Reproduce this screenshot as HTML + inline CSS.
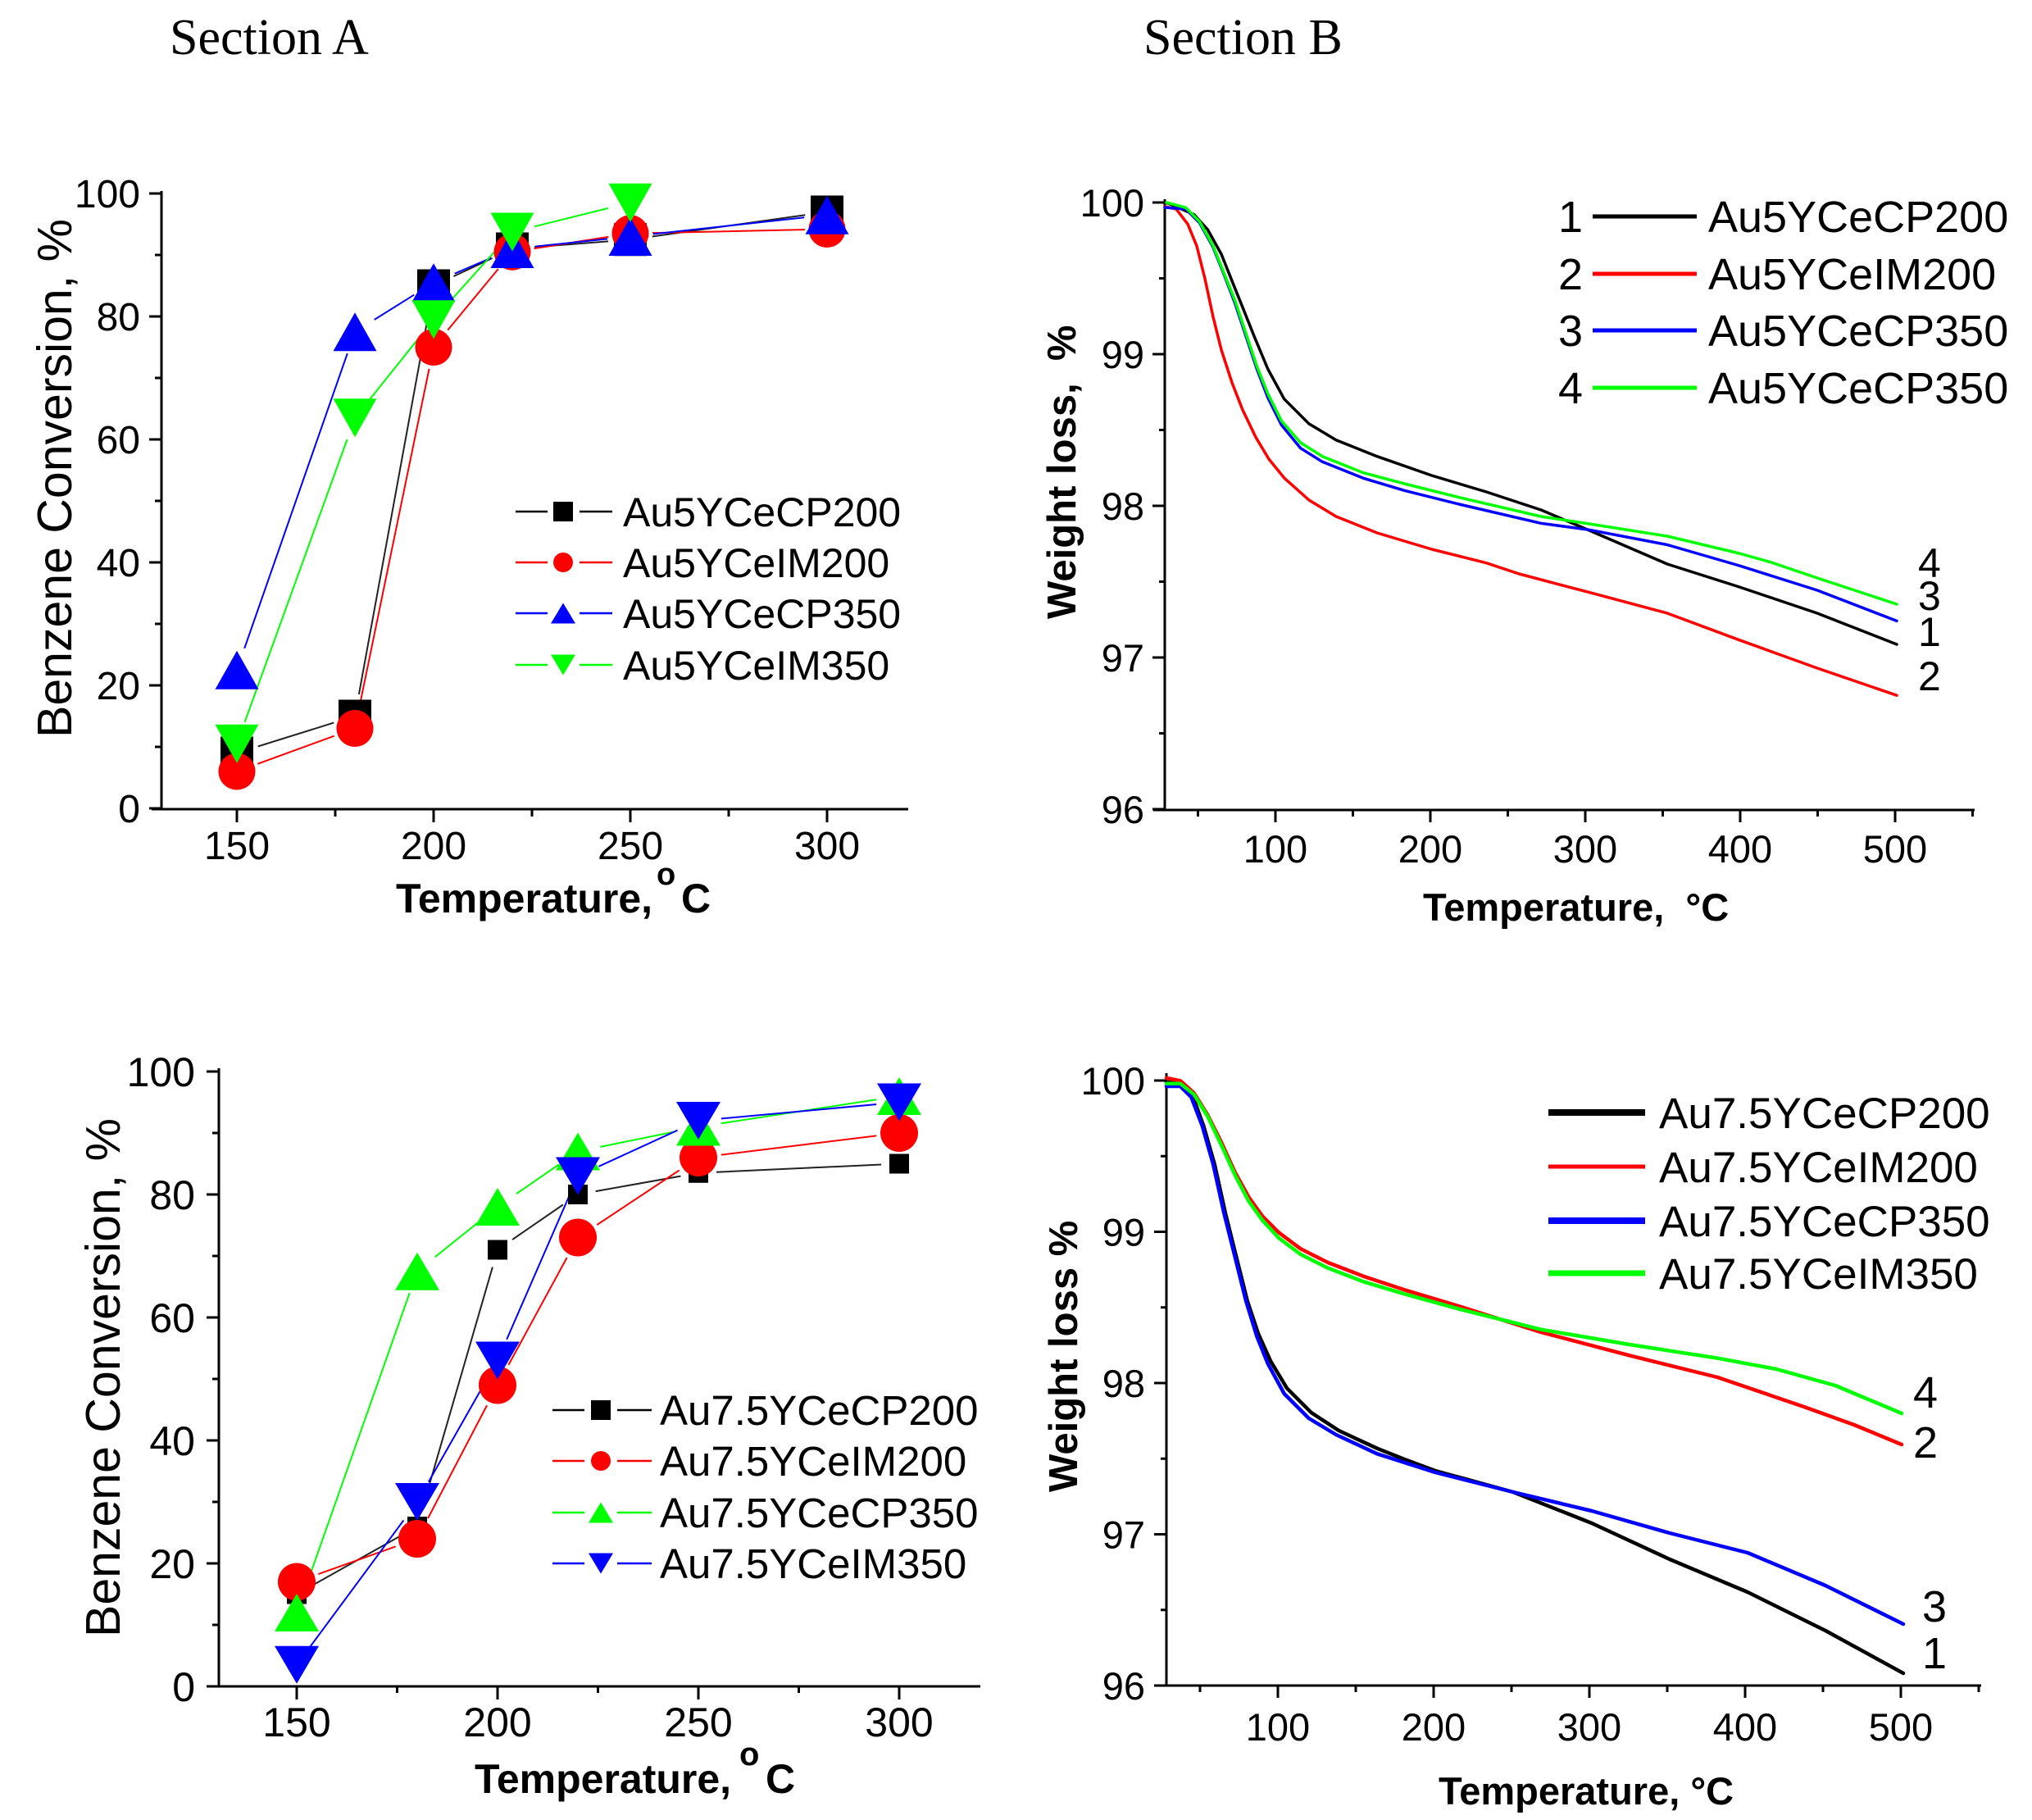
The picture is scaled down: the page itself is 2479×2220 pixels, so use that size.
<!DOCTYPE html>
<html><head><meta charset="utf-8"><style>
html,body{margin:0;padding:0;background:#fff;}
svg{display:block;}
text{font-family:"Liberation Sans",Arial,sans-serif;fill:#000;}
.serif{font-family:"Liberation Serif","Times New Roman",serif;}
.ax{stroke:#000;stroke-width:3;fill:none;}
.b{font-weight:bold;}
</style></head><body>
<svg width="2479" height="2220" viewBox="0 0 2479 2220" xmlns="http://www.w3.org/2000/svg">
<rect width="2479" height="2220" fill="#fff"/>
<defs>
<mask id="mTLk" maskUnits="userSpaceOnUse" x="0" y="0" width="2479" height="2220"><rect width="2479" height="2220" fill="#fff"/><g fill="#000"><circle cx="289" cy="918.5" r="27"/><circle cx="433" cy="873.5" r="27"/><circle cx="529" cy="348.5" r="27"/><circle cx="625" cy="303.5" r="27"/><circle cx="769" cy="292.25" r="27"/><circle cx="1009" cy="258.5" r="27"/></g></mask>
<mask id="mTLr" maskUnits="userSpaceOnUse" x="0" y="0" width="2479" height="2220"><rect width="2479" height="2220" fill="#fff"/><g fill="#000"><circle cx="289" cy="941" r="27"/><circle cx="433" cy="888.5" r="27"/><circle cx="529" cy="423.5" r="27"/><circle cx="625" cy="307.25" r="27"/><circle cx="769" cy="284.75" r="27"/><circle cx="1009" cy="279.5" r="27"/></g></mask>
<mask id="mTLb" maskUnits="userSpaceOnUse" x="0" y="0" width="2479" height="2220"><rect width="2479" height="2220" fill="#fff"/><g fill="#000"><circle cx="289" cy="817.25" r="28"/><circle cx="433" cy="404.75" r="28"/><circle cx="529" cy="344.75" r="28"/><circle cx="625" cy="303.5" r="28"/><circle cx="769" cy="288.5" r="28"/><circle cx="1009" cy="262.25" r="28"/></g></mask>
<mask id="mTLg" maskUnits="userSpaceOnUse" x="0" y="0" width="2479" height="2220"><rect width="2479" height="2220" fill="#fff"/><g fill="#000"><circle cx="289" cy="907.25" r="28"/><circle cx="433" cy="509.75" r="28"/><circle cx="529" cy="389.75" r="28"/><circle cx="625" cy="283" r="28"/><circle cx="769" cy="247.25" r="28"/></g></mask>

<mask id="mBLk" maskUnits="userSpaceOnUse" x="0" y="0" width="2479" height="2220"><rect width="2479" height="2220" fill="#fff"/><g fill="#000"><circle cx="362" cy="1944.5" r="22"/><circle cx="509" cy="1862" r="22"/><circle cx="607" cy="1524.5" r="22"/><circle cx="705" cy="1457" r="22"/><circle cx="852" cy="1430.75" r="22"/><circle cx="1097" cy="1419.5" r="22"/></g></mask>
<mask id="mBLr" maskUnits="userSpaceOnUse" x="0" y="0" width="2479" height="2220"><rect width="2479" height="2220" fill="#fff"/><g fill="#000"><circle cx="362" cy="1929.5" r="28"/><circle cx="509" cy="1877" r="28"/><circle cx="607" cy="1689.5" r="28"/><circle cx="705" cy="1509.5" r="28"/><circle cx="852" cy="1412" r="28"/><circle cx="1097" cy="1382" r="28"/></g></mask>
<mask id="mBLg" maskUnits="userSpaceOnUse" x="0" y="0" width="2479" height="2220"><rect width="2479" height="2220" fill="#fff"/><g fill="#000"><circle cx="362" cy="1967" r="28"/><circle cx="509" cy="1550.75" r="28"/><circle cx="607" cy="1472" r="28"/><circle cx="705" cy="1404.5" r="28"/><circle cx="852" cy="1374.5" r="28"/><circle cx="1097" cy="1337" r="28"/></g></mask>
<mask id="mBLb" maskUnits="userSpaceOnUse" x="0" y="0" width="2479" height="2220"><rect width="2479" height="2220" fill="#fff"/><g fill="#000"><circle cx="362" cy="2030.75" r="28"/><circle cx="509" cy="1832" r="28"/><circle cx="607" cy="1659.5" r="28"/><circle cx="705" cy="1434.5" r="28"/><circle cx="852" cy="1367" r="28"/><circle cx="1097" cy="1344.5" r="28"/></g></mask>
</defs>

<!-- Section titles -->
<text class="serif" x="207" y="66" font-size="62">Section A</text>
<text class="serif" x="1395" y="66" font-size="62">Section B</text>

<!-- ================= TOP LEFT ================= -->
<g class="ax">
<line x1="197" y1="233" x2="197" y2="988"/>
<line x1="185" y1="987" x2="1108" y2="987"/>
<path d="M182 986H197M182 836H197M182 686H197M182 536H197M182 386H197M182 236H197"/>
<path d="M189 911H197M189 761H197M189 611H197M189 461H197M189 311H197"/>
<path d="M289 987V1003M529 987V1003M769 987V1003M1009 987V1003"/>
<path d="M409 987V996M649 987V996M889 987V996"/>
</g>
<g font-size="48" text-anchor="end">
<text x="171" y="1003">0</text><text x="171" y="853">20</text><text x="171" y="703">40</text>
<text x="171" y="553">60</text><text x="171" y="403">80</text><text x="171" y="253">100</text>
</g>
<g font-size="48" text-anchor="middle">
<text x="289" y="1048">150</text><text x="529" y="1048">200</text><text x="769" y="1048">250</text><text x="1009" y="1048">300</text>
</g>
<text class="b" x="483" y="1113" font-size="50">Temperature,</text>
<text class="b" x="801" y="1079" font-size="38">o</text>
<text class="b" x="831" y="1113" font-size="50">C</text>
<text transform="translate(87,900) rotate(-90)" font-size="59">Benzene Conversion, %</text>

<g fill="none" stroke-width="2">
<polyline mask="url(#mTLk)" stroke="#222" points="289,918.5 433,873.5 529,348.5 625,303.5 769,292.25 1009,258.5"/>
<polyline mask="url(#mTLr)" stroke="#f00" points="289,941 433,888.5 529,423.5 625,307.25 769,284.75 1009,279.5"/>
<polyline mask="url(#mTLb)" stroke="#00f" points="289,817.25 433,404.75 529,344.75 625,303.5 769,288.5 1009,262.25"/>
<polyline mask="url(#mTLg)" stroke="#0f0" points="289,907.25 433,509.75 529,389.75 625,283 769,247.25"/>
</g>
<g fill="#000">
<rect x="269" y="898.5" width="40" height="40"/><rect x="413" y="853.5" width="40" height="40"/>
<rect x="509" y="328.5" width="40" height="40"/><rect x="605" y="283.5" width="40" height="40"/>
<rect x="749" y="272.25" width="40" height="40"/><rect x="989" y="238.5" width="40" height="40"/>
</g>
<g fill="#f00">
<circle cx="289" cy="941" r="22.5"/><circle cx="433" cy="888.5" r="22.5"/><circle cx="529" cy="423.5" r="22.5"/>
<circle cx="625" cy="307.25" r="22.5"/><circle cx="769" cy="284.75" r="22.5"/><circle cx="1009" cy="279.5" r="22.5"/>
</g>
<g fill="#00f">
<polygon points="289,793.75 262.5,840.75 315.5,840.75"/>
<polygon points="433,381.25 406.5,428.25 459.5,428.25"/>
<polygon points="529,321.25 502.5,368.25 555.5,368.25"/>
<polygon points="625,280 598.5,327 651.5,327"/>
<polygon points="769,265 742.5,312 795.5,312"/>
<polygon points="1009,238.75 982.5,285.75 1035.5,285.75"/>
</g>
<g fill="#0f0">
<polygon points="262.5,883.75 315.5,883.75 289,930.75"/>
<polygon points="406.5,486.25 459.5,486.25 433,533.25"/>
<polygon points="502.5,366.25 555.5,366.25 529,413.25"/>
<polygon points="598.5,259.5 651.5,259.5 625,306.5"/>
<polygon points="742.5,223.75 795.5,223.75 769,270.75"/>
</g>
<!-- TL legend -->
<g stroke-width="2.5">
<path d="M629 624H668M707 624H747" stroke="#000"/>
<path d="M629 686H668M707 686H747" stroke="#f00"/>
<path d="M629 748H668M707 748H747" stroke="#00f"/>
<path d="M629 811H668M707 811H747" stroke="#0f0"/>
</g>
<rect x="675" y="612" width="24" height="24" fill="#000"/>
<circle cx="687" cy="686" r="12" fill="#f00"/>
<polygon points="687,735.5 672,760.5 702,760.5" fill="#00f"/>
<polygon points="672,798.5 702,798.5 687,823.5" fill="#0f0"/>
<g font-size="50">
<text x="760" y="642">Au5YCeCP200</text>
<text x="760" y="704">Au5YCeIM200</text>
<text x="760" y="766">Au5YCeCP350</text>
<text x="760" y="829">Au5YCeIM350</text>
</g>

<!-- ================= TOP RIGHT ================= -->
<g class="ax">
<line x1="1421" y1="243" x2="1421" y2="989"/>
<line x1="1407" y1="988" x2="2409" y2="988"/>
<path d="M1406 247H1421M1406 432H1421M1406 617H1421M1406 802H1421M1406 987H1421"/>
<path d="M1414 339.5H1421M1414 524.5H1421M1414 709.5H1421M1414 894.5H1421"/>
<path d="M1556 988V1003M1745 988V1003M1934 988V1003M2123 988V1003M2312 988V1003"/>
<path d="M1461.5 988V996M1650.5 988V996M1839.5 988V996M2028.5 988V996M2217.5 988V996M2406.5 988V996"/>
</g>
<g font-size="47" text-anchor="end">
<text x="1396" y="264">100</text><text x="1396" y="449">99</text><text x="1396" y="634">98</text>
<text x="1396" y="819">97</text><text x="1396" y="1004">96</text>
</g>
<g font-size="47" text-anchor="middle">
<text x="1556" y="1052">100</text><text x="1745" y="1052">200</text><text x="1934" y="1052">300</text>
<text x="2123" y="1052">400</text><text x="2312" y="1052">500</text>
</g>
<text class="b" x="1736" y="1123" font-size="47">Temperature,&#160; °C</text>
<text class="b" transform="translate(1312,755) rotate(-90)" font-size="49">Weight loss,&#160; %</text>

<g fill="none" stroke-width="3.5" stroke-linejoin="round" stroke-linecap="round">
<polyline stroke="#f00" points="1421,252 1435,255 1449,273.3 1460,300 1470,340 1480,386.7 1490,426.7 1503,466.7 1516,500 1532,533.3 1548,560 1567,583.3 1597,610 1630,630 1680,650 1746.7,670 1813.3,686.7 1853.3,700 1939,722.6 2034,748 2122,780.7 2217,815 2314,848.2"/>
<polyline stroke="#000" points="1422,247 1430,250 1456.7,261.7 1473.3,280 1490,310 1503.3,343.3 1516.7,376.7 1530,410 1546.7,450 1566.7,486.7 1596.7,516.7 1630,536.7 1680,556.7 1746.7,580 1813.3,600 1880,622 1939,647 2034,688 2122,716 2217,748 2314,786"/>
<polyline stroke="#00f" points="1421,253 1446.7,255 1463.3,271.7 1480,301.7 1493.3,335 1506.7,370 1520,410 1533.3,450 1546.7,485 1563.3,518.3 1586.7,546.7 1613.3,563.3 1663.3,583.3 1713.3,598.3 1780,615 1880,638.3 1939,646.3 2034,664.5 2122,690 2217,720 2314,757.4"/>
<polyline stroke="#0f0" points="1423,247 1446.7,253.3 1463.3,270 1480,300 1493.3,333.3 1506.7,366.7 1520,406.7 1533.3,446.7 1546.7,480 1563.3,513.3 1586.7,540 1613.3,556.7 1663.3,576.7 1713.3,590 1780,606.7 1880,630 1939,639 2034,654 2122,675 2161,686 2217,705 2314,737"/>
</g>
<g font-size="50">
<text x="2340" y="704">4</text><text x="2340" y="744">3</text>
<text x="2340" y="788">1</text><text x="2340" y="842">2</text>
</g>
<!-- TR legend -->
<g stroke-width="5">
<line x1="1943" y1="264" x2="2070" y2="264" stroke="#000"/>
<line x1="1943" y1="334" x2="2070" y2="334" stroke="#f00"/>
<line x1="1943" y1="403" x2="2070" y2="403" stroke="#00f"/>
<line x1="1943" y1="473" x2="2070" y2="473" stroke="#0f0"/>
</g>
<g font-size="54">
<text x="1901" y="283">1</text><text x="2084" y="283">Au5YCeCP200</text>
<text x="1901" y="353">2</text><text x="2084" y="353">Au5YCeIM200</text>
<text x="1901" y="422">3</text><text x="2084" y="422">Au5YCeCP350</text>
<text x="1901" y="492">4</text><text x="2084" y="492">Au5YCeCP350</text>
</g>

<!-- ================= BOTTOM LEFT ================= -->
<g class="ax">
<line x1="267" y1="1303" x2="267" y2="2058"/>
<line x1="253" y1="2057" x2="1196" y2="2057"/>
<path d="M252 2057H267M252 1907H267M252 1757H267M252 1607H267M252 1457H267M252 1307H267"/>
<path d="M259 1982H267M259 1832H267M259 1682H267M259 1532H267M259 1382H267"/>
<path d="M362 2057V2073M607 2057V2073M852 2057V2073M1097 2057V2073"/>
<path d="M484.5 2057V2065M729.5 2057V2065M974.5 2057V2065"/>
</g>
<g font-size="50" text-anchor="end">
<text x="238" y="2075">0</text><text x="238" y="1925">20</text><text x="238" y="1775">40</text>
<text x="238" y="1625">60</text><text x="238" y="1475">80</text><text x="238" y="1325">100</text>
</g>
<g font-size="50" text-anchor="middle">
<text x="362" y="2118">150</text><text x="607" y="2118">200</text><text x="852" y="2118">250</text><text x="1097" y="2118">300</text>
</g>
<text class="b" x="579" y="2187" font-size="50">Temperature,</text>
<text class="b" x="902" y="2153" font-size="40">o</text>
<text class="b" x="934" y="2187" font-size="50">C</text>
<text transform="translate(146,1997) rotate(-90)" font-size="59">Benzene Conversion, %</text>

<g fill="none" stroke-width="2">
<polyline mask="url(#mBLk)" stroke="#222" points="362,1944.5 509,1862 607,1524.5 705,1457 852,1430.75 1097,1419.5"/>
<polyline mask="url(#mBLr)" stroke="#f00" points="362,1929.5 509,1877 607,1689.5 705,1509.5 852,1412 1097,1382"/>
<polyline mask="url(#mBLg)" stroke="#0f0" points="362,1967 509,1550.75 607,1472 705,1404.5 852,1374.5 1097,1337"/>
<polyline mask="url(#mBLb)" stroke="#00f" points="362,2030.75 509,1832 607,1659.5 705,1434.5 852,1367 1097,1344.5"/>
</g>
<g fill="#000">
<rect x="350" y="1932.5" width="24" height="24"/><rect x="497" y="1850" width="24" height="24"/>
<rect x="595" y="1512.5" width="24" height="24"/><rect x="693" y="1445" width="24" height="24"/>
<rect x="840" y="1418.75" width="24" height="24"/><rect x="1085" y="1407.5" width="24" height="24"/>
</g>
<g fill="#f00">
<circle cx="362" cy="1929.5" r="23"/><circle cx="509" cy="1877" r="23"/><circle cx="607" cy="1689.5" r="23"/>
<circle cx="705" cy="1509.5" r="23"/><circle cx="852" cy="1412" r="23"/><circle cx="1097" cy="1382" r="23"/>
</g>
<g fill="#0f0">
<polygon points="362,1944 335,1990 389,1990"/>
<polygon points="509,1527.75 482,1573.75 536,1573.75"/>
<polygon points="607,1449 580,1495 634,1495"/>
<polygon points="705,1381.5 678,1427.5 732,1427.5"/>
<polygon points="852,1351.5 825,1397.5 879,1397.5"/>
<polygon points="1097,1314 1070,1360 1124,1360"/>
</g>
<g fill="#00f">
<polygon points="335,2007.75 389,2007.75 362,2053.75"/>
<polygon points="482,1809 536,1809 509,1855"/>
<polygon points="580,1636.5 634,1636.5 607,1682.5"/>
<polygon points="678,1411.5 732,1411.5 705,1457.5"/>
<polygon points="825,1344 879,1344 852,1390"/>
<polygon points="1070,1321.5 1124,1321.5 1097,1367.5"/>
</g>
<!-- BL legend -->
<g stroke-width="2.5">
<path d="M674 1720H713M753 1720H795" stroke="#000"/>
<path d="M674 1782H713M753 1782H795" stroke="#f00"/>
<path d="M674 1845H713M753 1845H795" stroke="#0f0"/>
<path d="M674 1907H713M753 1907H795" stroke="#00f"/>
</g>
<rect x="721" y="1708" width="24" height="24" fill="#000"/>
<circle cx="733" cy="1782" r="12" fill="#f00"/>
<polygon points="733,1832.5 718,1857.5 748,1857.5" fill="#0f0"/>
<polygon points="718,1894.5 748,1894.5 733,1919.5" fill="#00f"/>
<g font-size="51">
<text x="805" y="1738">Au7.5YCeCP200</text>
<text x="805" y="1800">Au7.5YCeIM200</text>
<text x="805" y="1863">Au7.5YCeCP350</text>
<text x="805" y="1925">Au7.5YCeIM350</text>
</g>

<!-- ================= BOTTOM RIGHT ================= -->
<g class="ax">
<line x1="1423" y1="1309" x2="1423" y2="2057"/>
<line x1="1409" y1="2056" x2="2417" y2="2056"/>
<path d="M1408 1318H1423M1408 1502.5H1423M1408 1687H1423M1408 1871.5H1423M1408 2056H1423"/>
<path d="M1416 1410.25H1423M1416 1594.75H1423M1416 1779.25H1423M1416 1963.75H1423"/>
<path d="M1559 2056V2071M1749 2056V2071M1939 2056V2071M2129 2056V2071M2319 2056V2071"/>
<path d="M1464 2056V2064M1654 2056V2064M1844 2056V2064M2034 2056V2064M2224 2056V2064M2414 2056V2064"/>
</g>
<g font-size="47" text-anchor="end">
<text x="1397" y="1335">100</text><text x="1397" y="1519.5">99</text><text x="1397" y="1704">98</text>
<text x="1397" y="1888.5">97</text><text x="1397" y="2073">96</text>
</g>
<g font-size="47" text-anchor="middle">
<text x="1559" y="2123">100</text><text x="1749" y="2123">200</text><text x="1939" y="2123">300</text>
<text x="2129" y="2123">400</text><text x="2319" y="2123">500</text>
</g>
<text class="b" x="1755" y="2201" font-size="47">Temperature, °C</text>
<text class="b" transform="translate(1314,1820) rotate(-90)" font-size="49">Weight loss %</text>

<g fill="none" stroke-width="4.5" stroke-linejoin="round" stroke-linecap="round">
<polyline stroke="#000" points="1423,1320 1440,1321.7 1455,1336.7 1468.3,1373.3 1481.7,1420 1495,1480 1508.3,1533.3 1521.7,1586.7 1535,1626.7 1550,1660 1570,1693.3 1600,1723.3 1633.3,1745 1680,1766.7 1713.3,1780 1751,1794 1846,1820 1942,1858 2037,1902 2132,1942 2227,1989 2322,2041"/>
<polyline stroke="#f00" points="1423,1315 1440,1318.3 1456.7,1333.3 1473.3,1360 1490,1393.3 1506.7,1430 1523.3,1460 1540,1483.3 1560,1503.3 1586.7,1523.3 1620,1540 1663.3,1556.7 1713.3,1573.3 1780,1593.3 1880,1625 1987.7,1653.3 2095.4,1680 2203,1716.7 2262,1738 2320,1762"/>
<polyline stroke="#00f" points="1423,1325 1440,1325 1453.3,1338.3 1466.7,1373.3 1480,1420 1493.3,1480 1506.7,1533.3 1520,1586.7 1533.3,1630 1546.7,1663.3 1566.7,1700 1596.7,1730 1630,1750 1680,1773.3 1751,1796 1846,1820 1942,1843 2037,1870 2132,1894 2227,1934 2322,1981"/>
<polyline stroke="#0f0" points="1423,1321.7 1440,1321.7 1456.7,1335 1473.3,1361.7 1490,1396.7 1506.7,1433.3 1523.3,1465 1540,1488.3 1560,1510 1586.7,1530 1620,1546.7 1663.3,1563.3 1713.3,1578.3 1780,1596.7 1880,1621.7 1987.7,1640 2095.4,1656.7 2167,1670 2239,1690 2320,1724"/>
</g>
<g font-size="54">
<text x="2334" y="1717">4</text><text x="2334" y="1778">2</text>
<text x="2345" y="1978">3</text><text x="2345" y="2035">1</text>
</g>
<!-- BR legend -->
<line x1="1889" y1="1357" x2="2007" y2="1357" stroke="#000" stroke-width="8"/>
<line x1="1889" y1="1423" x2="2007" y2="1423" stroke="#f00" stroke-width="5"/>
<line x1="1889" y1="1489" x2="2007" y2="1489" stroke="#00f" stroke-width="8"/>
<line x1="1889" y1="1553" x2="2007" y2="1553" stroke="#0f0" stroke-width="7"/>
<g font-size="53">
<text x="2024" y="1376">Au7.5YCeCP200</text>
<text x="2024" y="1442">Au7.5YCeIM200</text>
<text x="2024" y="1508">Au7.5YCeCP350</text>
<text x="2024" y="1572">Au7.5YCeIM350</text>
</g>
</svg>
</body></html>
